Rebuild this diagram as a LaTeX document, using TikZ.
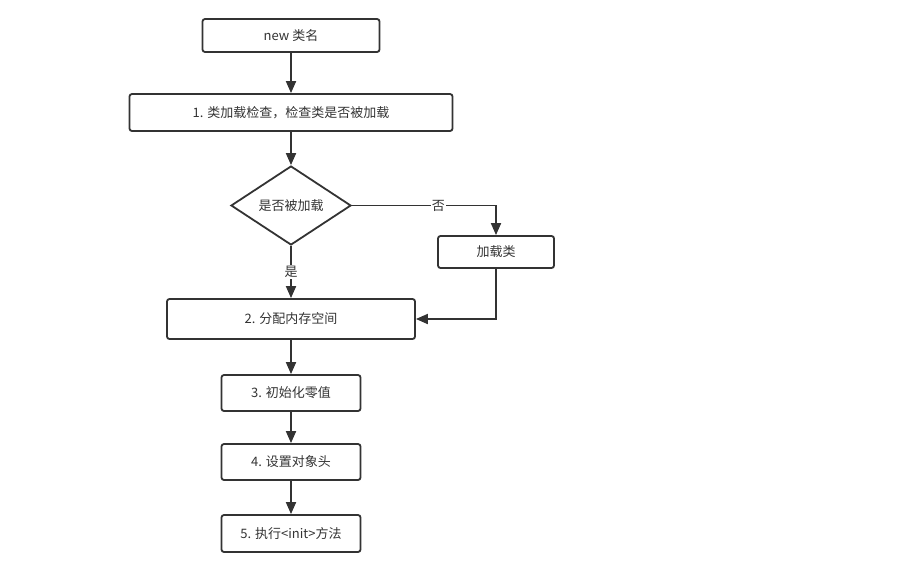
\documentclass[tikz,border=0pt]{standalone}
\usepackage{fontspec}
\setmainfont{Noto Sans CJK SC}
\usetikzlibrary{arrows.meta,positioning,shapes.geometric}
\definecolor{ln}{RGB}{51,51,51}
\definecolor{tx}{RGB}{51,51,51}
\tikzset{
  box/.style ={rectangle,draw=ln,line width=1.8pt,rounded corners=2.5pt,inner sep=0pt,text=tx},
  dec/.style ={diamond,draw=ln,line width=1.8pt,inner sep=0pt,text=tx,minimum width=120pt,minimum height=79pt},
  lab/.style ={fill=white,text=tx,inner sep=1pt},
  ar/.style  ={-{Triangle[length=12pt,width=10pt]},draw=ln,line width=1.8pt},
}
\begin{document}
\begin{tikzpicture}[x=1pt,y=-1pt,font=\fontsize{13}{15}\selectfont]
  \useasboundingbox (0,0) rectangle (918,565);
  \node[box,minimum width=177pt,minimum height=33pt] (new)   at (291,35.5) {new 类名};
  \node[box,minimum width=323pt,minimum height=37pt] (chk)   at (291,112.5) {1. 类加载检查，检查类是否被加载};
  \node[dec] (isld) at (291,205.5) {是否被加载};
  \node[box,minimum width=116pt,minimum height=32pt] (ldcls) at (496,252) {加载类};
  \node[box,minimum width=248pt,minimum height=40pt] (alloc) at (291,319) {2. 分配内存空间};
  \node[box,minimum width=139pt,minimum height=36pt] (zero)  at (291,393) {3. 初始化零值};
  \node[box,minimum width=139pt,minimum height=36pt] (head)  at (291,462) {4. 设置对象头};
  \node[box,minimum width=139pt,minimum height=37pt] (init)  at (291,533.5) {5. 执行<init>方法};
  \draw[ar] (new) -- (chk);
  \draw[ar] (chk) -- (isld);
  \draw[ar] (isld.east) -| node[lab,pos=0.3] {否} (ldcls.north);
  \draw[ar] (isld.south) -- node[lab] {是} (alloc.north);
  \draw[ar] (ldcls.south) |- (alloc.east);
  \draw[ar] (alloc) -- (zero);
  \draw[ar] (zero) -- (head);
  \draw[ar] (head) -- (init);
\end{tikzpicture}
\end{document}
